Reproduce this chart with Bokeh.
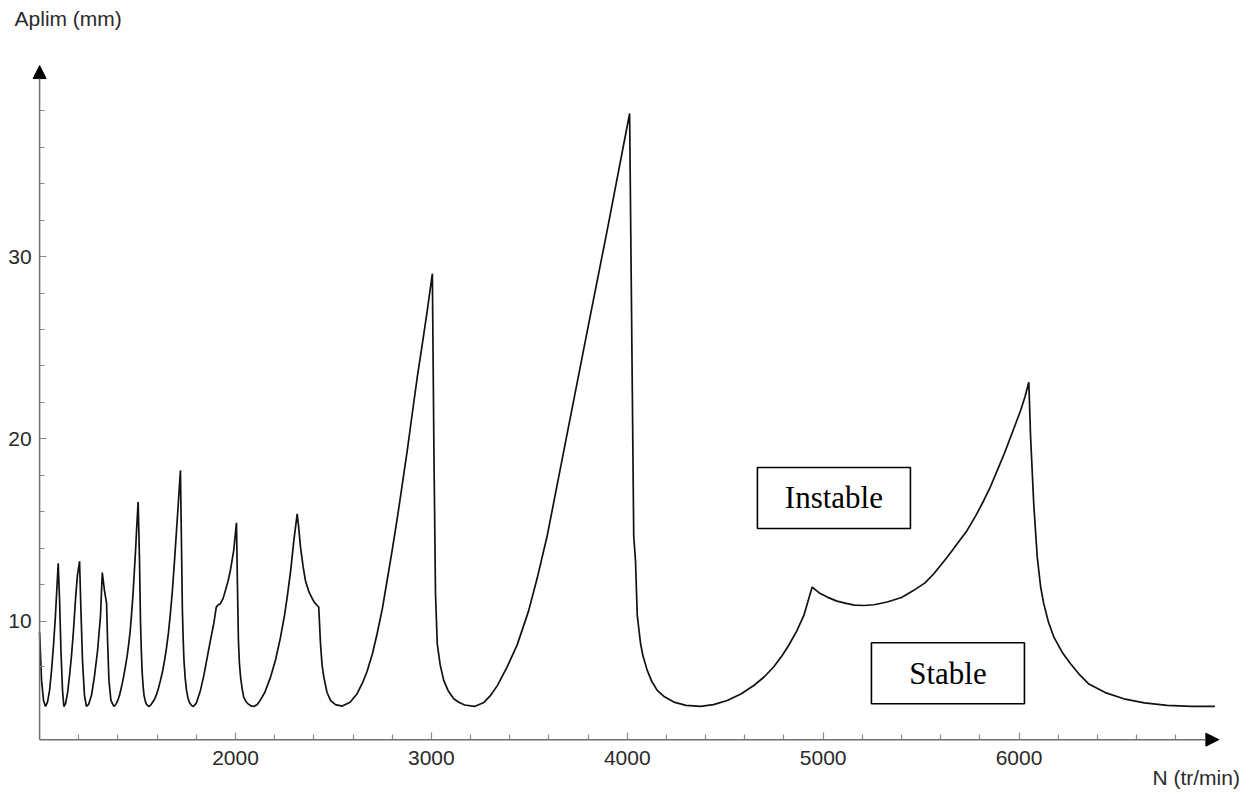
from bokeh.plotting import figure
from bokeh.models import Range1d, FixedTicker, Arrow, NormalHead, Label
from bokeh.core.properties import value
from bokeh.embed import file_html
from bokeh.resources import INLINE

# ---- data (spindle speed N in tr/min, limit depth Aplim in mm) ----
speed = [1000, 1010, 1020, 1030, 1040, 1051, 1061, 1071, 1081, 1095,
         1102, 1109, 1117, 1124, 1133, 1143, 1153, 1163, 1173, 1183, 1193, 1204,
         1211, 1219, 1229, 1239, 1250, 1265, 1280, 1296, 1311, 1320, 1331, 1342,
         1347, 1354, 1364, 1379, 1385, 1392, 1400, 1408, 1415, 1423, 1431, 1439, 1447, 1454,
         1462, 1469, 1477, 1484, 1490, 1495, 1503,
         1507, 1510, 1515, 1519, 1523, 1528, 1533, 1540, 1546, 1557,
         1566, 1576, 1587, 1597, 1607, 1617, 1628, 1638, 1648, 1658, 1668, 1678, 1688, 1699, 1709, 1719,
         1724, 1729, 1733, 1737, 1743, 1750, 1757, 1765, 1775, 1785,
         1800, 1821, 1838, 1856, 1872, 1889, 1902, 1912, 1923, 1937, 1949, 1962, 1974, 1991, 2005,
         2010, 2015, 2020, 2026, 2034, 2042, 2054, 2066, 2080, 2093,
         2110, 2126, 2150, 2179, 2205, 2230, 2250, 2264, 2282, 2298, 2315,
         2322, 2332, 2345, 2357, 2375, 2392, 2405, 2417, 2425,
         2434, 2442, 2451, 2467, 2485, 2510, 2545,
         2585, 2621, 2650, 2672, 2700, 2723, 2750, 2774, 2800, 2826, 2850, 2877, 2900, 2928, 2955, 2979, 3005,
         3013, 3021, 3030, 3045, 3063, 3085, 3114, 3140, 3170, 3220,
         3268, 3300, 3336, 3385, 3438, 3496, 3540, 3591, 3693, 3795, 3898, 4012,
         4033, 4042, 4051, 4068, 4080, 4102, 4125, 4153, 4190, 4238, 4300, 4374,
         4440, 4510, 4580, 4646, 4700, 4748, 4790, 4823, 4865, 4901, 4944,
         4980, 5021, 5070, 5123, 5160, 5208, 5260, 5327, 5400, 5463, 5520, 5565, 5633,
         5735, 5780, 5820, 5855, 5889, 5925, 5957, 5985, 6008, 6030, 6050,
         6059, 6075, 6093, 6110, 6126, 6150, 6178, 6220, 6263, 6310, 6354, 6440, 6535,
         6640, 6756, 6880, 7000]
aplim = [9.38, 6.75, 5.65, 5.32, 5.54, 6.20, 7.30, 8.67, 10.32, 13.17,
         11.14, 8.39, 6.20, 5.32, 5.49, 6.09, 7.02, 8.12, 9.49, 11.14, 12.51, 13.28,
         10.59, 7.85, 5.93, 5.32, 5.43, 5.93, 6.97, 8.39, 10.32, 12.67, 11.69, 10.97,
         8.94, 6.75, 5.65, 5.32, 5.38, 5.49, 5.68, 5.93, 6.25, 6.64, 7.07, 7.57, 8.10, 8.67,
         9.40, 10.32, 11.50, 12.78, 13.90, 14.98, 16.53,
         14.80, 13.33, 10.04, 8.50, 7.30, 6.50, 5.93, 5.60, 5.43, 5.32,
         5.38, 5.54, 5.72, 5.98, 6.33, 6.75, 7.25, 7.85, 8.55, 9.38, 10.45, 11.69, 13.20, 14.98, 16.60, 18.27,
         14.43, 10.59, 9.00, 7.85, 6.90, 6.20, 5.80, 5.54, 5.38, 5.32,
         5.50, 6.20, 7.00, 8.03, 8.95, 9.86, 10.77, 10.90, 10.96, 11.25, 11.69, 12.20, 12.78, 13.88, 15.40,
         12.00, 8.94, 7.70, 6.93, 6.30, 5.83, 5.58, 5.45, 5.35, 5.32,
         5.42, 5.65, 6.10, 6.93, 7.90, 9.12, 10.30, 11.32, 12.80, 14.43, 15.89,
         15.20, 14.06, 13.00, 12.23, 11.60, 11.23, 11.00, 10.86, 10.77,
         8.76, 7.60, 6.93, 6.10, 5.65, 5.42, 5.34,
         5.55, 6.02, 6.65, 7.25, 8.25, 9.31, 10.70, 12.23, 13.90, 15.65, 17.40, 19.37, 21.20, 23.39, 25.30, 27.04, 29.06,
         19.37, 11.52, 8.76, 7.60, 6.75, 6.20, 5.74, 5.55, 5.40, 5.32,
         5.54, 5.90, 6.45, 7.45, 8.70, 10.55, 12.35, 14.67, 20.27, 25.87, 31.47, 37.85,
         14.67, 13.33, 10.32, 8.76, 8.10, 7.30, 6.70, 6.20, 5.85, 5.56, 5.38, 5.32,
         5.42, 5.65, 6.00, 6.47, 6.95, 7.50, 8.10, 8.65, 9.45, 10.30, 11.87,
         11.55, 11.32, 11.10, 10.96, 10.88, 10.86, 10.90, 11.05, 11.30, 11.69, 12.10, 12.60, 13.51,
         14.98, 15.80, 16.62, 17.40, 18.27, 19.20, 20.10, 20.90, 21.56, 22.30, 23.11,
         20.10, 16.44, 13.51, 11.90, 10.96, 9.95, 9.12, 8.30, 7.66, 7.05, 6.57, 6.08, 5.74,
         5.52, 5.38, 5.33, 5.33]

x_major = [2000, 3000, 4000, 5000, 6000]
x_minor = [1200, 1400, 1600, 1800, 2200, 2400, 2600, 2800, 3200, 3400, 3600, 3800,
           4200, 4400, 4600, 4800, 5200, 5400, 5600, 5800, 6200, 6400, 6600, 6800]
y_major = [10, 20, 30]
y_minor = [7.5, 12, 14, 16, 18, 22, 24, 26, 28, 32, 34, 36, 38]

region_labels = ["Instable", "Stable"]
x_title = "N (tr/min)"
y_title = "Aplim (mm)"

# axis extents (origin and arrow tips)
X0, X1 = 1000, 7020
Y0, Y1 = 3.5, 40.48

# the frame covers the whole canvas; the axes sit at fixed locations inside it
p = figure(output_backend="svg", toolbar_location=None,
           frame_width=1252, frame_height=792,
           min_border=0,
           x_range=Range1d(800.4, 7191.8), y_range=Range1d(0.60, 44.05))
p.outline_line_color = None
p.xgrid.visible = False
p.ygrid.visible = False
p.background_fill_color = "white"
p.border_fill_color = "white"

p.xaxis.fixed_location = Y0
p.yaxis.fixed_location = X0

for ax, maj, mnr, stand in ((p.xaxis[0], x_major, x_minor, 11), (p.yaxis[0], y_major, y_minor, 8)):
    ax.ticker = FixedTicker(ticks=maj, minor_ticks=mnr)
    ax.axis_line_color = None
    ax.major_tick_in = 7
    ax.major_tick_out = 0
    ax.minor_tick_in = 5
    ax.minor_tick_out = 0
    ax.major_tick_line_color = "#8a8a8a"
    ax.minor_tick_line_color = "#8a8a8a"
    ax.major_tick_line_width = 1.2
    ax.minor_tick_line_width = 1.2
    ax.major_label_text_font = "Liberation Sans"
    ax.major_label_text_font_size = "21px"
    ax.major_label_text_color = "#2a2a2a"
    ax.major_label_standoff = stand

# axes drawn as arrows
p.add_layout(Arrow(end=NormalHead(size=13, fill_color="black", line_color="black", line_width=1),
                   x_start=X0, y_start=Y0, x_end=X1, y_end=Y0,
                   line_color="#707070", line_width=1.5))
p.add_layout(Arrow(end=NormalHead(size=13, fill_color="black", line_color="black", line_width=1),
                   x_start=X0, y_start=Y0, x_end=X0, y_end=Y1,
                   line_color="#707070", line_width=1.5))

# stability lobe curve
p.line(speed, aplim, line_color="#111111", line_width=1.7)

# region boxes
box_x = [5055, 5637]
box_y = [16.76, 7.14]
p.rect(x=box_x, y=box_y, width=153, height=61, width_units="screen", height_units="screen",
       fill_color="white", line_color="black", line_width=1.6)
p.text(x=box_x, y=box_y, text=region_labels, text_align="center", text_baseline="middle",
       text_font=value("Liberation Serif"), text_font_size="31px", text_color="black")

# axis titles
p.add_layout(Label(x=872, y=43.06, text=y_title, text_baseline="middle", text_align="left",
                   text_font="Liberation Sans", text_font_size="21px", text_color="#2a2a2a"))
p.add_layout(Label(x=6681, y=1.45, text=x_title, text_baseline="middle", text_align="left",
                   text_font="Liberation Sans", text_font_size="21px", text_color="#2a2a2a"))

open("out.html", "w").write(file_html(p, INLINE))
